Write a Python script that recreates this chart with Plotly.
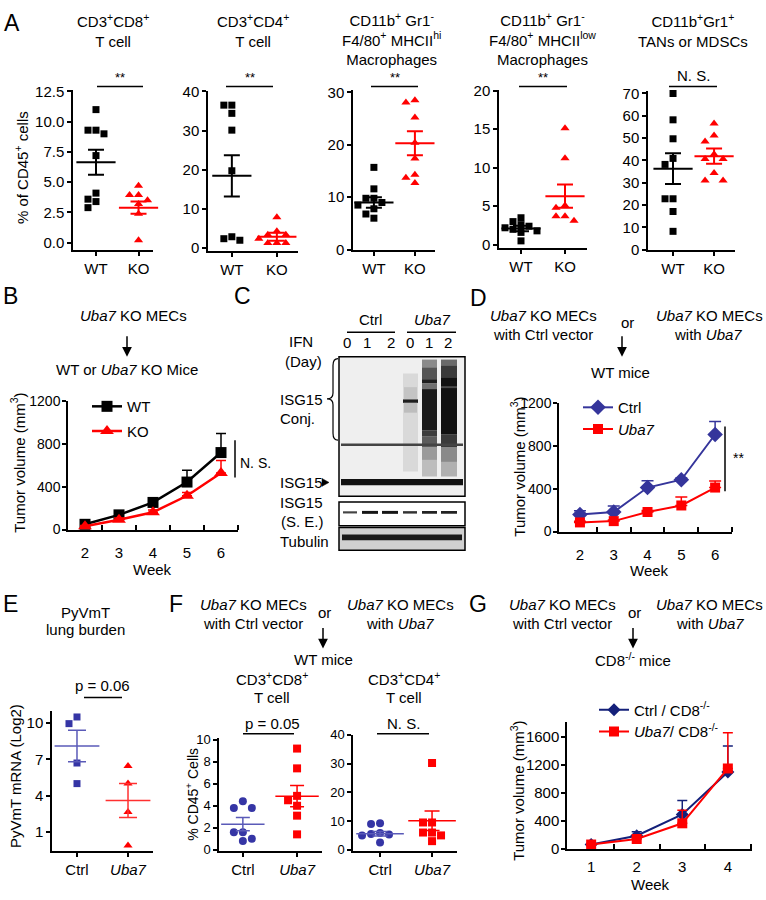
import plotly.graph_objects as go

FONT = "Liberation Sans, Arial, sans-serif"
W, H = 766, 900
RED = "#ff0000"
BLUE_D = "#35359b"
BLUE_EF = "#3535a5"
NAVY_G = "#14207a"

# ---------------- DATA ----------------
A_titles = ["CD3<sup>+</sup>CD8<sup>+</sup><br>T cell",
            "CD3<sup>+</sup>CD4<sup>+</sup><br>T cell",
            "CD11b<sup>+</sup> Gr1<sup>-</sup><br>F4/80<sup>+</sup> MHCII<sup>hi</sup><br>Macrophages",
            "CD11b<sup>+</sup> Gr1<sup>-</sup><br>F4/80<sup>+</sup> MHCII<sup>low</sup><br>Macrophages",
            "CD11b<sup>+</sup>Gr1<sup>+</sup><br>TANs or MDSCs"]
A_groups = ["WT", "KO"]
A_sig = ["**", "**", "**", "**", "N. S."]
A_WT = [[11.0, 9.3, 9.3, 9.0, 7.2, 4.1, 3.6, 3.4, 2.9],
        [36.5, 36.5, 34.4, 30.1, 19.7, 2.8, 2.3, 1.9],
        [15.7, 11.6, 9.8, 9.8, 9.0, 8.5, 7.8, 6.8, 6.0],
        [3.5, 3.0, 2.6, 2.4, 2.2, 2.0, 1.8, 1.6, 0.5],
        [70.0, 58.2, 49.7, 40.9, 38.2, 22.8, 22.8, 17.1, 8.2]]
A_KO = [[4.7, 3.95, 3.95, 3.5, 3.2, 2.4, 0.2],
        [7.8, 4.2, 3.3, 3.3, 2.3, 1.2, 1.2, 1.2],
        [28.5, 28.1, 25.2, 20.4, 17.4, 14.3, 13.7, 12.7],
        [15.1, 11.2, 5.1, 4.8, 3.7, 3.7, 3.1],
        [56.6, 51.2, 48.5, 42.8, 40.6, 40.6, 34.3, 31.0, 31.0]]
A_WT_mean = [6.65, 18.4, 9.0, 2.1, 36.3]
A_WT_sem = [1.03, 5.3, 1.0, 0.35, 6.9]
A_KO_mean = [2.9, 2.8, 20.3, 6.3, 41.9]
A_KO_sem = [0.5, 1.0, 2.3, 1.5, 3.4]
A_yticks = [[0, 2.5, 5, 7.5, 10, 12.5], [0, 10, 20, 30, 40], [0, 10, 20, 30],
            [0, 5, 10, 15, 20], [0, 10, 20, 30, 40, 50, 60, 70]]
A_ytext = [["0.0", "2.5", "5.0", "7.5", "10.0", "12.5"], None, None, None, None]

B_weeks = [2, 3, 4, 5, 6]
B_WT = [49, 137, 253, 443, 718]
B_WT_err = [10, 20, 25, 110, 177]
B_KO = [30, 92, 162, 315, 528]
B_KO_err = [8, 15, 20, 30, 116]

D_weeks = [2, 3, 4, 5, 6]
D_Ctrl = [158, 182, 410, 483, 905]
D_Ctrl_err = [36, 55, 64, 15, 122]
D_Uba7 = [85, 97, 182, 243, 410]
D_Uba7_err = [10, 10, 15, 79, 61]

E_groups = ["Ctrl", "<i>Uba7</i>"]
E_Ctrl = [10.5, 9.95, 6.7, 5.0]
E_Uba7 = [6.45, 5.0, 2.65, -0.1]
E_mean = [8.1, 3.6]
E_sem = [1.3, 1.4]

F_groups = ["Ctrl", "<i>Uba7</i>"]
F_CD8_Ctrl = [4.4, 3.8, 3.8, 1.6, 1.6, 1.0, 0.8]
F_CD8_Uba7 = [9.2, 7.4, 4.9, 4.5, 4.0, 3.1, 1.4]
F_CD8_mean = [2.33, 4.87]
F_CD8_sem = [0.6, 0.97]
F_CD4_Ctrl = [9.2, 9.0, 5.8, 5.5, 5.3, 5.0, 2.5]
F_CD4_Uba7 = [30.2, 9.5, 9.5, 6.0, 6.0, 5.0, 3.0]
F_CD4_mean = [5.6, 10.1]
F_CD4_sem = [0.8, 3.4]

G_weeks = [1, 2, 3, 4]
G_Ctrl = [61, 187, 490, 1096]
G_Ctrl_err = [10, 56, 200, 373]
G_Uba7 = [61, 140, 364, 1147]
G_Uba7_err = [10, 20, 186, 509]

# ---------------- helpers ----------------
def px(x):
    return x / W

def py(y):
    return 1 - y / H

annotations = []
shapes = []
layout_axes = {}
legends = {}
fig = go.Figure()


def ann(text, x, y, size=15, xanchor="center", yanchor="middle", angle=0, color="black"):
    annotations.append(dict(text=text, x=px(x), y=py(y), xref="paper", yref="paper",
                            showarrow=False, xanchor=xanchor, yanchor=yanchor, textangle=angle,
                            font=dict(size=size, color=color, family=FONT)))


def arrow(x, y0, y1):
    annotations.append(dict(text="", x=px(x), y=py(y1), xref="paper", yref="paper",
                            ax=0, ay=-(y1 - y0), showarrow=True, arrowhead=2, arrowsize=1.3,
                            arrowwidth=1.5, arrowcolor="black"))


def line_px(x0, y0, x1, y1, w=1.5, color="black"):
    shapes.append(dict(type="line", xref="paper", yref="paper", x0=px(x0), y0=py(y0),
                       x1=px(x1), y1=py(y1), line=dict(color=color, width=w)))


def rect_px(x0, y0, x1, y1, fill, lw=0, lc="black"):
    shapes.append(dict(type="rect", xref="paper", yref="paper", x0=px(x0), y0=py(y0),
                       x1=px(x1), y1=py(y1), fillcolor=fill, layer="above",
                       line=dict(color=lc, width=lw)))


def path_px(cmds, fill=None, w=1.5):
    s = ""
    for c in cmds:
        if isinstance(c, str):
            s += c + " "
        else:
            s += f"{px(c[0]):.5f},{py(c[1]):.5f} "
    shapes.append(dict(type="path", xref="paper", yref="paper", path=s.strip(),
                       fillcolor=fill if fill else "rgba(0,0,0,0)",
                       line=dict(color="black", width=w)))


def add_axes(n, xdom, ydom, xr, yr, xtickvals=None, xticktext=None, ytickvals=None,
             yticktext=None, line_plot=False, minor_vals=None, xfont=15, yfont=15, standoff=9):
    xk = "xaxis" if n == 1 else f"xaxis{n}"
    yk = "yaxis" if n == 1 else f"yaxis{n}"
    common = dict(showline=True, linecolor="black", linewidth=1.5, showgrid=False,
                  zeroline=False, tickcolor="black", tickwidth=1.5, fixedrange=True)
    xa = dict(domain=[xdom[0] / W, xdom[1] / W], range=xr, anchor=("y" if n == 1 else f"y{n}"),
              tickvals=xtickvals, ticktext=xticktext, tickfont=dict(size=xfont, color="black"),
              **common)
    ya = dict(domain=[1 - ydom[1] / H, 1 - ydom[0] / H], range=yr,
              anchor=("x" if n == 1 else f"x{n}"), tickvals=ytickvals, ticktext=yticktext,
              ticks="outside", ticklen=4, tickfont=dict(size=yfont, color="black"), **common)
    if line_plot:
        xa.update(ticks="", ticklabelstandoff=standoff,
                  minor=dict(tickvals=minor_vals, ticks="inside", ticklen=5, tickwidth=1.5,
                             tickcolor="black", showgrid=False))
        ya.update(ticklabelstandoff=-1)
    else:
        xa.update(ticks="outside", ticklen=5)
    layout_axes[xk] = xa
    layout_axes[yk] = ya
    return ("x" if n == 1 else f"x{n}"), ("y" if n == 1 else f"y{n}")


def swarm(vals, center, xppu, yppu, size):
    placed = []
    res = [None] * len(vals)
    order = sorted(range(len(vals)), key=lambda i: -vals[i])
    for i in order:
        ypx = vals[i] * yppu
        xo = 0
        for k in [0, -1, 1, -2, 2, -3, 3]:
            xo = k * (size + 1)
            if all(not (abs(ypx - p[0]) < size and abs(xo - p[1]) < size) for p in placed):
                break
        placed.append((ypx, xo))
        res[i] = center + xo / xppu
    return res


def dot_group(xa, ya, vals, center, xdom, ydom, xr, yr, symbol, color, size):
    xppu = (xdom[1] - xdom[0]) / (xr[1] - xr[0])
    yppu = (ydom[1] - ydom[0]) / (yr[1] - yr[0])
    xs = swarm(vals, center, xppu, yppu, size)
    fig.add_trace(go.Scatter(x=xs, y=vals, mode="markers", xaxis=xa, yaxis=ya,
                             marker=dict(symbol=symbol, color=color, size=size, line=dict(width=0)),
                             showlegend=False, cliponaxis=False))


def mean_sem(xa, ya, means, sems, colors, mw, cap, lw=2):
    for i in range(len(means)):
        fig.add_trace(go.Scatter(x=[i], y=[means[i]], mode="markers", xaxis=xa, yaxis=ya,
                                 marker=dict(symbol="line-ew", size=mw,
                                             line=dict(color=colors[i], width=lw)),
                                 error_y=dict(type="data", array=[sems[i]], visible=True,
                                              color=colors[i], thickness=lw, width=cap),
                                 showlegend=False, cliponaxis=False))


def legend_at(key, xtext, ycenter, yoff=18):
    legends[key] = dict(x=px(xtext - 39), y=py(ycenter - yoff), xanchor="left", yanchor="top",
                        bgcolor="rgba(0,0,0,0)", font=dict(size=15, color="black", family=FONT),
                        borderwidth=0, tracegroupgap=0)


# ---------------- Panel A ----------------
A_xdom = [(73, 153), (208, 298), (353, 435), (499, 587), (648, 735)]
A_ydom = [(83, 246), (84, 247), (83, 246), (83, 244), (85, 246)]
A_xr = [[-0.54, 1.34], [-0.53, 1.47], [-0.51, 1.49], [-0.5, 1.5], [-0.61, 1.51]]
A_yr = [[-0.57, 12.66], [-0.75, 40.25], [0, 30.56], [-0.38, 20.13], [0, 70.9]]
A_title_x = [113, 253, 391, 542, 693]
A_title_y = [23, 23, 32, 32, 23]
A_sigline = [(97, 143), (226, 273), (371, 418), (519, 567), (669, 717)]

for k in range(5):
    xa, ya = add_axes(k + 1, A_xdom[k], A_ydom[k], A_xr[k], A_yr[k], [0, 1], A_groups,
                      A_yticks[k], A_ytext[k])
    dot_group(xa, ya, A_WT[k], 0, A_xdom[k], A_ydom[k], A_xr[k], A_yr[k], "square", "black", 7)
    dot_group(xa, ya, A_KO[k], 1, A_xdom[k], A_ydom[k], A_xr[k], A_yr[k], "triangle-up", RED, 8)
    mean_sem(xa, ya, [A_WT_mean[k], A_KO_mean[k]], [A_WT_sem[k], A_KO_sem[k]],
             ["black", RED], 28, 8)
    ann(A_titles[k], A_title_x[k], A_title_y[k], size=15)
    l0, l1 = A_sigline[k]
    line_px(l0, 80, l1, 80)
    if A_sig[k] == "**":
        ann("**", (l0 + l1) / 2, 71, size=13)
    else:
        ann(A_sig[k], (l0 + l1) / 2, 69, size=15)

ann("% of CD45<sup>+</sup> cells", 21, 163, angle=-90)
ann("A", 12, 15, size=23)

# ---------------- Panel B ----------------
xB, yB = add_axes(6, (68, 238), (400, 531), [1.5, 6.5], [0, 1200], B_weeks, None,
                  [0, 400, 800, 1200], None, line_plot=True, minor_vals=[2.5, 3.5, 4.5, 5.5, 6.5],
                  standoff=9, yfont=14)
fig.add_trace(go.Scatter(x=B_weeks, y=B_WT, name="WT", mode="lines+markers", xaxis=xB, yaxis=yB,
                         line=dict(color="black", width=2.5),
                         marker=dict(symbol="square", size=11, color="black"),
                         error_y=dict(type="data", array=B_WT_err, arrayminus=[0] * 5,
                                      symmetric=False, color="black", thickness=1.5, width=5),
                         legend="legend", cliponaxis=False))
fig.add_trace(go.Scatter(x=B_weeks, y=B_KO, name="KO", mode="lines+markers", xaxis=xB, yaxis=yB,
                         line=dict(color=RED, width=2.5),
                         marker=dict(symbol="triangle-up", size=12, color=RED),
                         error_y=dict(type="data", array=B_KO_err, arrayminus=[0] * 5,
                                      symmetric=False, color=RED, thickness=1.5, width=5),
                         legend="legend2", cliponaxis=False))
legend_at("legend", 126, 407)
legend_at("legend2", 126, 432)
ann("B", 10, 293, size=23)
ann("<i>Uba7</i> KO MECs", 133, 313)
arrow(127, 333, 355)
ann("WT or <i>Uba7</i> KO Mice", 127, 368)
ann("Tumor volume (mm<sup>3</sup>)", 18, 463, angle=-90)
ann("Week", 152, 572)
line_px(235, 440, 235, 478)
ann("N. S.", 238, 463, size=14, xanchor="left")

# ---------------- Panel C (blot) ----------------
ann("C", 242, 293, size=23)
ann("Ctrl", 370, 317)
ann("<i>Uba7</i>", 432, 317)
line_px(347, 330, 395, 330)
line_px(407, 330, 456, 330)
ann("IFN", 301, 340)
ann("(Day)", 303, 360)
for lx, lt in zip([347, 367, 391, 410, 429, 448], ["0", "1", "2", "0", "1", "2"]):
    ann(lt, lx, 341)
ann("ISG15", 278, 399, xanchor="left")
ann("Conj.", 278, 418, xanchor="left")
ann("ISG15", 278, 483, xanchor="left")
ann("ISG15", 278, 503, xanchor="left")
ann("(S. E.)", 279, 523, xanchor="left")
ann("Tubulin", 278, 543, xanchor="left")
# brace
path_px(["M", (338, 357), "Q", (333, 357), (333, 364), "L", (333, 392), "Q", (333, 398), (327, 398),
         "Q", (333, 398), (333, 404), "L", (333, 433), "Q", (333, 440), (338, 440)], w=1.2)
# arrowhead
path_px(["M", (322, 479), "L", (329, 483), "L", (322, 487), "Z"], fill="black", w=0.5)
# main box
rect_px(339, 355, 465, 497, "#efefef", 1.5)
# lane 4 (Uba7, day 0)
rect_px(403, 372, 418, 472, "#d9d9d9")
rect_px(404, 386, 417, 398, "#c4c4c4")
rect_px(403, 398.5, 418, 402, "#1e1e1e")
rect_px(404, 402, 417, 412, "#bdbdbd")
# lane 5
rect_px(422, 358, 437, 477, "#bdbdbd")
rect_px(422, 358, 437, 366, "#8a8a8a")
rect_px(422, 366, 437, 378, "#555555")
rect_px(422, 378, 437, 382, "#1e1e1e")
rect_px(422, 382, 437, 388, "#707070")
rect_px(422, 388, 437, 430, "#1a1a1a")
rect_px(422, 430, 437, 436, "#3c3c3c")
rect_px(422, 436, 437, 447, "#5c5c5c")
rect_px(422, 447, 437, 460, "#9a9a9a")
# lane 6
rect_px(441, 358, 457, 477, "#b0b0b0")
rect_px(441, 358, 457, 364, "#6a6a6a")
rect_px(441, 364, 457, 376, "#3a3a3a")
rect_px(441, 376, 457, 434, "#111111")
rect_px(441, 434, 457, 447, "#3a3a3a")
rect_px(441, 447, 457, 462, "#8a8a8a")
rect_px(441, 385, 457, 387, "#4a4a4a")
# common bands
rect_px(341, 443.5, 463, 446, "#444444")
rect_px(341, 479.5, 463, 486, "#111111")
# S.E. box
rect_px(339, 503, 465, 527, "#ffffff", 1.5)
for (bx0, bx1, bc, bh) in [(343, 357, "#444444", 1.2), (362, 378, "#151515", 2),
                           (382, 398, "#151515", 2), (403, 417, "#333333", 1.5),
                           (422, 437, "#222222", 1.8), (441, 457, "#222222", 1.8)]:
    rect_px(bx0, 513 - bh / 2, bx1, 513 + bh / 2 + 1, bc)
# tubulin box
rect_px(339, 529, 465, 552, "#d0d0d0", 1.5)
rect_px(342, 536, 462, 542, "#1a1a1a")

# ---------------- Panel D ----------------
xD, yD = add_axes(7, (559, 732), (402, 533), [1.38, 6.5], [0, 1200], D_weeks, None,
                  [0, 400, 800, 1200], None, line_plot=True, minor_vals=[2.5, 3.5, 4.5, 5.5, 6.5],
                  standoff=9, yfont=14)
fig.add_trace(go.Scatter(x=D_weeks, y=D_Ctrl, name="Ctrl", mode="lines+markers", xaxis=xD, yaxis=yD,
                         line=dict(color=BLUE_D, width=2),
                         marker=dict(symbol="diamond", size=12, color=BLUE_D),
                         error_y=dict(type="data", array=D_Ctrl_err, arrayminus=[0] * 5,
                                      symmetric=False, color=BLUE_D, thickness=1.5, width=6),
                         legend="legend3", cliponaxis=False))
fig.add_trace(go.Scatter(x=D_weeks, y=D_Uba7, name="<i>Uba7</i>", mode="lines+markers", xaxis=xD,
                         yaxis=yD, line=dict(color=RED, width=2),
                         marker=dict(symbol="square", size=10, color=RED),
                         error_y=dict(type="data", array=D_Uba7_err, arrayminus=[0] * 5,
                                      symmetric=False, color=RED, thickness=1.5, width=6),
                         legend="legend4", cliponaxis=False))
legend_at("legend3", 617, 408)
legend_at("legend4", 617, 430)
ann("D", 478, 295, size=23)
ann("<i>Uba7</i> KO MECs", 543, 313)
ann("with Ctrl vector", 543, 332)
ann("or", 627, 320)
ann("<i>Uba7</i> KO MECs", 765, 313, xanchor="right")
ann("with <i>Uba7</i>", 708, 332)
arrow(622, 333, 355)
ann("WT mice", 620, 371)
ann("Tumor volume (mm<sup>3</sup>)", 518, 467, angle=-90)
ann("Week", 649, 573)
line_px(725, 426, 725, 492)
ann("**", 738, 458, size=14)

# ---------------- Panel E ----------------
E_xdom, E_ydom, E_xr, E_yr = (52, 153), (716, 858), [-0.49, 1.49], [-0.54, 10.97]
xE, yE = add_axes(8, E_xdom, E_ydom, E_xr, E_yr, [0, 1], E_groups, [1, 4, 7, 10], None)
dot_group(xE, yE, E_Ctrl, 0, E_xdom, E_ydom, E_xr, E_yr, "square", BLUE_EF, 7)
dot_group(xE, yE, E_Uba7, 1, E_xdom, E_ydom, E_xr, E_yr, "triangle-up", RED, 8)
mean_sem(xE, yE, E_mean, E_sem, ["#5a5ab8", "#ff3030"], 32, 9, lw=1.5)
ann("E", 10, 607, size=23)
ann("PyVmT", 85, 615)
ann("lung burden", 85, 633)
ann("p = 0.06", 102, 690)
line_px(84, 702, 122, 702)
ann("PyVmT mRNA (Log2)", 15, 782, angle=-90)

# ---------------- Panel F ----------------
F1_xdom, F1_ydom, F1_xr, F1_yr = (219, 322), (743, 858), [-0.44, 1.46], [-0.09, 10.18]
F2_xdom, F2_ydom, F2_xr, F2_yr = (353, 457), (740, 858), [-0.52, 1.48], [-0.34, 40]
xF1, yF1 = add_axes(9, F1_xdom, F1_ydom, F1_xr, F1_yr, [0, 1], F_groups,
                    [0, 2, 4, 6, 8, 10], None, yfont=13)
xF2, yF2 = add_axes(10, F2_xdom, F2_ydom, F2_xr, F2_yr, [0, 1], F_groups,
                    [0, 10, 20, 30, 40], None, yfont=13)
dot_group(xF1, yF1, F_CD8_Ctrl, 0, F1_xdom, F1_ydom, F1_xr, F1_yr, "circle", BLUE_EF, 8)
dot_group(xF1, yF1, F_CD8_Uba7, 1, F1_xdom, F1_ydom, F1_xr, F1_yr, "square", RED, 8)
mean_sem(xF1, yF1, F_CD8_mean, F_CD8_sem, ["#5a5ab8", RED], 31, 7, lw=1.5)
dot_group(xF2, yF2, F_CD4_Ctrl, 0, F2_xdom, F2_ydom, F2_xr, F2_yr, "circle", BLUE_EF, 8)
dot_group(xF2, yF2, F_CD4_Uba7, 1, F2_xdom, F2_ydom, F2_xr, F2_yr, "square", RED, 8)
mean_sem(xF2, yF2, F_CD4_mean, F_CD4_sem, ["#5a5ab8", RED], 34, 7.5, lw=1.5)
ann("F", 176, 607, size=23)
ann("<i>Uba7</i> KO MECs", 253, 607)
ann("with Ctrl vector", 253, 627)
ann("or", 324, 615)
ann("<i>Uba7</i> KO MECs", 400, 607)
ann("with <i>Uba7</i>", 400, 627)
arrow(323, 630, 652)
ann("WT mice", 323, 663)
ann("CD3<sup>+</sup>CD8<sup>+</sup>", 272, 683)
ann("T cell", 272, 702)
ann("CD3<sup>+</sup>CD4<sup>+</sup>", 404, 683)
ann("T cell", 404, 702)
ann("p = 0.05", 272, 728)
line_px(243, 739, 294, 739)
ann("N. S.", 403, 728)
line_px(377, 739, 429, 739)
ann("% CD45<sup>+</sup> Cells", 192, 800, size=14, angle=-90)

# ---------------- Panel G ----------------
xG, yG = add_axes(11, (567, 752), (727, 856), [0.47, 4.53], [0, 1810], G_weeks, None,
                  [0, 400, 800, 1200, 1600], None, line_plot=True, minor_vals=[1.5, 2.5, 3.5, 4.5],
                  standoff=3)
fig.add_trace(go.Scatter(x=G_weeks, y=G_Ctrl, name="Ctrl / CD8<sup>-/-</sup>", mode="lines+markers",
                         xaxis=xG, yaxis=yG, line=dict(color=NAVY_G, width=2),
                         marker=dict(symbol="diamond", size=10, color=NAVY_G),
                         error_y=dict(type="data", array=G_Ctrl_err, arrayminus=[0] * 4,
                                      symmetric=False, color=NAVY_G, thickness=1.5, width=5),
                         legend="legend5", cliponaxis=False))
fig.add_trace(go.Scatter(x=G_weeks, y=G_Uba7, name="<i>Uba7</i>/ CD8<sup>-/-</sup>",
                         mode="lines+markers", xaxis=xG, yaxis=yG, line=dict(color=RED, width=2),
                         marker=dict(symbol="square", size=10, color=RED),
                         error_y=dict(type="data", array=G_Uba7_err, arrayminus=[0] * 4,
                                      symmetric=False, color=RED, thickness=1.5, width=5),
                         legend="legend6", cliponaxis=False))
legend_at("legend5", 633, 710, yoff=12)
legend_at("legend6", 633, 732, yoff=12)
ann("G", 478, 607, size=23)
ann("<i>Uba7</i> KO MECs", 562, 607)
ann("with Ctrl vector", 562, 627)
ann("or", 634, 615)
ann("<i>Uba7</i> KO MECs", 765, 607, xanchor="right")
ann("with <i>Uba7</i>", 710, 627)
arrow(633, 630, 652)
ann("CD8<sup>-/-</sup> mice", 633, 663)
ann("Tumor volume (mm<sup>3</sup>)", 518, 797, angle=-90)
ann("Week", 650, 892)

fig.update_layout(
    width=W, height=H, margin=dict(l=0, r=0, t=0, b=0),
    paper_bgcolor="white", plot_bgcolor="white",
    font=dict(family=FONT, color="black", size=15),
    annotations=annotations, shapes=shapes,
    **legends,
    **layout_axes,
)

fig.write_html("out.html",
               config={"displayModeBar": False},
               post_script="document.body.style.margin='0';document.body.style.padding='0';"
                           "document.body.style.overflow='hidden';"
                           "document.documentElement.style.overflow='hidden';")
